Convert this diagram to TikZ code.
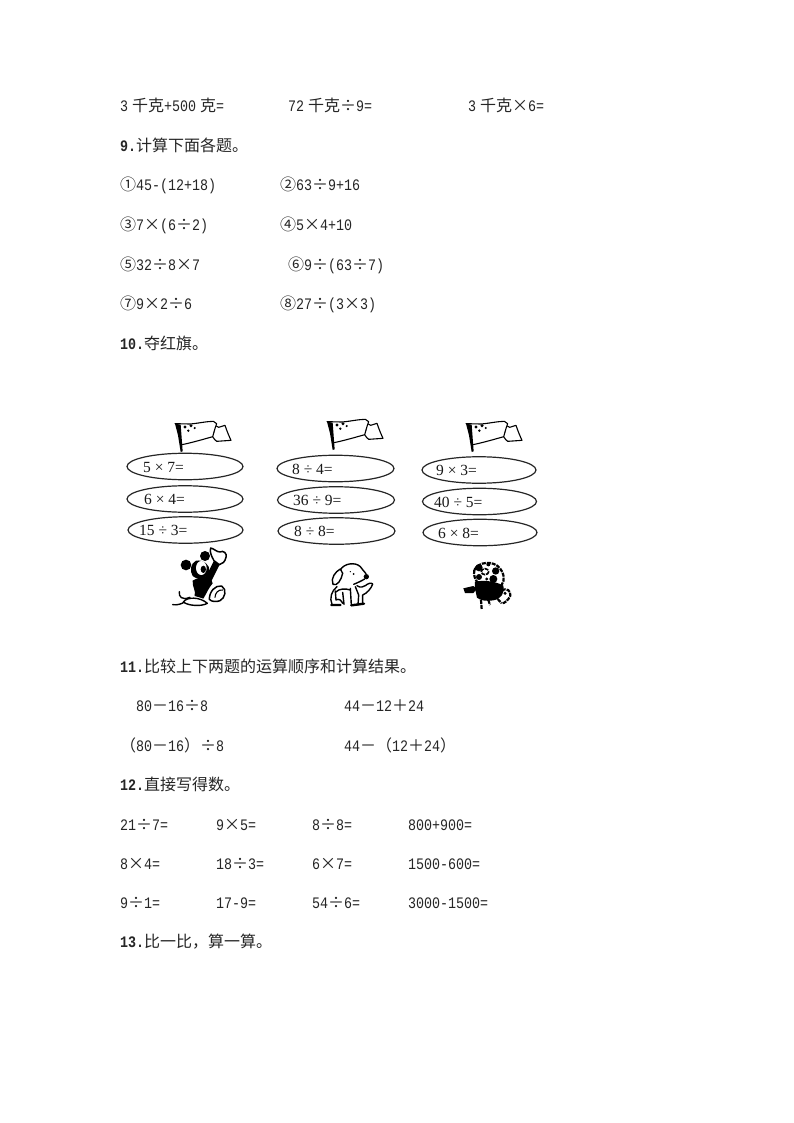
\documentclass[tikz,border=0pt]{standalone}
\usepackage{fontspec}
\setmainfont{Liberation Mono}[FakeStretch=0.833]
\newfontfamily\sumfont{Liberation Serif}
\newfontfamily\cjk{Noto Sans CJK SC}
\usetikzlibrary{shapes.geometric}
\newcommand{\Cj}[1]{{\cjk #1}}
\newcommand{\Bd}[1]{{\bfseries #1}}
\newcommand{\Hs}{\hspace{4pt}}
\tikzset{
  txt/.style={anchor=base west,inner sep=0pt,font=\fontsize{16}{18}\selectfont,text=black!85},
  oval/.style={draw=black!85,line width=1.2pt,ellipse,minimum width=#1,minimum height=26.5pt,inner sep=0pt},
  sum/.style={anchor=base west,inner sep=0pt,font=\sumfont\fontsize{15.5}{18}\selectfont,text=black!90},
  ink/.style={draw=black,line width=1.1pt,line join=round,line cap=round},
  rough/.style={draw=black,line width=1.5pt,dash pattern=on 4pt off 1pt},
  flagpic/.pic={
    \begin{scope}[x=0.3333pt,y=-0.3333pt,shift={(-33,-110)}]
    \fill[black] (15,25) -- (32,28) -- (38,108) -- (32,110) -- (24,60) -- cycle;
    \draw[ink] (15,25) -- (60,26) .. controls (85,24) and (110,18) .. (130,18) -- (140,25)
      .. controls (137,33) and (134,42) .. (132,50);
    \draw[ink] (36,88) .. controls (65,82) and (100,72) .. (128,64) .. controls (132,70) and (135,75) .. (140,78) -- (183,75)
      .. controls (176,60) and (170,45) .. (165,30) -- (146,36) -- (139,32);
    \draw[ink] (132,50) -- (128,64);
    \fill (45,35) circle (5) (63,31) circle (5) (55,46) circle (4) (74,38) circle (3.5);
    \end{scope}
  }
}
\begin{document}
\begin{tikzpicture}[x=1pt,y=-1pt]
\useasboundingbox (0,0) rectangle (794,1123);
\fill[white] (0,0) rectangle (794,1123);
% top lines
\node[txt] (a1) at (120,112) {3\Hs\Cj{千克}+500\Hs\Cj{克}=};
\node[txt] (a2) at (288,112) {72\Hs\Cj{千克÷}9=};
\node[txt] (a3) at (468,112) {3\Hs\Cj{千克×}6=};
\node[txt] (q9) at (120,152) {\Bd{9.}\Cj{计算下面各题。}};
\node[txt] (b1) at (120,191) {\Cj{①}45-(12+18)};
\node[txt] (b2) at (280,191) {\Cj{②}63\Cj{÷}9+16};
\node[txt] (b3) at (120,230) {\Cj{③}7\Cj{×}(6\Cj{÷}2)};
\node[txt] (b4) at (280,230) {\Cj{④}5\Cj{×}4+10};
\node[txt] (b5) at (120,270) {\Cj{⑤}32\Cj{÷}8\Cj{×}7};
\node[txt] (b6) at (288,270) {\Cj{⑥}9\Cj{÷}(63\Cj{÷}7)};
\node[txt] (b7) at (120,309) {\Cj{⑦}9\Cj{×}2\Cj{÷}6};
\node[txt] (b8) at (280,309) {\Cj{⑧}27\Cj{÷}(3\Cj{×}3)};
\node[txt] (q10) at (120,349) {\Bd{10.}\Cj{夺红旗。}};
% ovals
\node[oval=116pt] (e11) at (185,466.5) {};
\node[oval=116pt] (e12) at (185,499) {};
\node[oval=115pt] (e13) at (185.5,530) {};
\node[oval=117pt] (e21) at (335.5,468.5) {};
\node[oval=117pt] (e22) at (336,500) {};
\node[oval=117pt] (e23) at (336.5,531) {};
\node[oval=114pt] (e31) at (479,470) {};
\node[oval=114pt] (e32) at (479.5,501.5) {};
\node[oval=114pt] (e33) at (480,532.5) {};
\node[sum] (s11) at (143,472.5) {5 × 7=};
\node[sum] (s12) at (144,504.5) {6 × 4=};
\node[sum] (s13) at (139,535.5) {15 ÷ 3=};
\node[sum] (s21) at (292,474) {8 ÷ 4=};
\node[sum] (s22) at (293,505.5) {36 ÷ 9=};
\node[sum] (s23) at (294,536.5) {8 ÷ 8=};
\node[sum] (s31) at (436,475.5) {9 × 3=};
\node[sum] (s32) at (434,507.5) {40 ÷ 5=};
\node[sum] (s33) at (438,538.5) {6 × 8=};
% flags
\pic at (181,452) {flagpic};
\pic at (333,450) {flagpic};
\pic at (472,452) {flagpic};
% mouse
\begin{scope}[shift={(170,540)},x=0.3333pt,y=-0.3333pt]
  \draw[ink,line width=1.4pt] (28,155) .. controls (26,170) and (35,182) .. (60,172);
  \draw[ink,line width=1.4pt] (8,194) .. controls (22,196) and (35,192) .. (45,185);
  \draw[ink,fill=white,line width=1.4pt] (40,186) .. controls (50,170) and (90,170) .. (112,190) .. controls (95,200) and (55,198) .. (40,186) -- cycle;
  \fill (68,122) .. controls (80,112) and (105,112) .. (118,105) -- (128,130) .. controls (115,145) and (110,160) .. (100,176) .. controls (90,172) and (80,170) .. (74,168) .. controls (78,150) and (66,140) .. (68,122) -- cycle;
  \fill (108,110) -- (132,62) -- (150,72) -- (122,128) -- cycle;
  \draw[ink,fill=white,line width=1.5pt] (132,62) .. controls (125,50) and (118,35) .. (122,24) .. controls (132,26) and (140,36) .. (150,36) .. controls (160,30) and (172,40) .. (168,52) .. controls (165,65) and (158,72) .. (148,74) -- cycle;
  \draw[ink,fill=white,line width=1.5pt] (118,178) .. controls (118,155) and (135,135) .. (155,138) .. controls (172,148) and (165,175) .. (150,182) .. controls (140,186) and (125,186) .. (118,178) -- cycle;
  \draw[ink] (135,172) .. controls (135,160) and (145,148) .. (158,150);
  \fill (48,75) circle (16);
  \fill (105,48) circle (15);
  \fill (78,62) .. controls (100,58) and (122,75) .. (118,95) .. controls (112,118) and (85,122) .. (68,108) .. controls (58,92) and (62,70) .. (78,62) -- cycle;
  \fill[white] (94,84) ellipse (16 and 21);
  \fill (100,88) ellipse (8 and 11);
\end{scope}
% dog
\begin{scope}[shift={(322,555)},x=0.3333pt,y=-0.3333pt]
  \draw[ink,line width=1.4pt] (55,45) .. controls (65,25) and (100,20) .. (115,35) .. controls (122,42) and (125,50) .. (132,56);
  \draw[ink,line width=1.4pt] (128,72) .. controls (118,78) and (105,84) .. (95,88);
  \fill (133,65) ellipse (8 and 8);
  \fill (95,57) circle (3) (85,50) circle (2);
  \draw[ink,fill=white,line width=1.4pt] (55,42) .. controls (40,50) and (25,70) .. (33,88) .. controls (45,95) and (58,75) .. (62,55) -- cycle;
  \draw[ink,line width=1.4pt] (45,95) .. controls (28,108) and (22,130) .. (30,148);
  \draw[ink,line width=1.4pt] (40,112) .. controls (52,100) and (70,100) .. (85,105);
  \draw[ink,line width=1.4pt] (62,112) -- (66,148) (85,100) -- (88,150) (100,95) -- (110,120) -- (108,150);
  \draw[ink,line width=1.4pt] (105,92) .. controls (115,100) and (125,95) .. (130,92) .. controls (138,85) and (148,82) .. (152,87) .. controls (148,100) and (135,115) .. (122,120) -- (122,145);
  \draw[ink,line width=1.4pt] (40,108) -- (42,135) .. controls (50,130) and (58,135) .. (62,145);
  \draw[ink,line width=2.4pt] (28,150) -- (55,150) (88,151) -- (126,146);
\end{scope}
% bear
\begin{scope}[shift={(455,555)},x=0.3333pt,y=-0.3333pt]
  \fill (60,80) .. controls (90,74) and (125,80) .. (145,92) .. controls (150,115) and (138,132) .. (115,136) .. controls (95,140) and (75,136) .. (66,128) .. controls (62,110) and (58,95) .. (60,80) -- cycle;
  \fill (25,100) -- (55,93) -- (66,102) -- (55,114) -- (30,114) -- cycle;
  \draw[rough,line width=2.2pt] (58,45) .. controls (70,20) and (115,15) .. (135,40) .. controls (148,55) and (150,75) .. (140,90);
  \draw[rough,line width=2.2pt] (58,45) .. controls (55,60) and (60,75) .. (70,85);
  \fill (72,38) circle (11) (100,28) circle (6) (122,48) circle (11) (115,72) circle (12) (72,66) circle (9) (95,72) circle (5);
  \draw[rough,line width=1.6pt] (90,50) ellipse (11 and 9);
  \draw[rough,line width=2.2pt] (140,105) .. controls (155,100) and (168,105) .. (166,122) .. controls (160,135) and (150,145) .. (140,145);
  \draw[rough,line width=2.2pt] (128,132) -- (140,145) (78,135) -- (80,162) (100,135) -- (105,150);
  \fill (150,115) circle (5);
\end{scope}
% lower text
\node[txt] (q11) at (120,672) {\Bd{11.}\Cj{比较上下两题的运算顺序和计算结果。}};
\node[txt] (c1) at (136,711) {80\Cj{－}16\Cj{÷}8};
\node[txt] (c2) at (344,711) {44\Cj{－}12\Cj{＋}24};
\node[txt] (c3) at (120,751) {\Cj{（}80\Cj{－}16\Cj{）÷}8};
\node[txt] (c4) at (344,751) {44\Cj{－（}12\Cj{＋}24\Cj{）}};
\node[txt] (q12) at (120,790) {\Bd{12.}\Cj{直接写得数。}};
\node[txt] (d1) at (120,830) {21\Cj{÷}7=};
\node[txt] (d2) at (216,830) {9\Cj{×}5=};
\node[txt] (d3) at (312,830) {8\Cj{÷}8=};
\node[txt] (d4) at (408,830) {800+900=};
\node[txt] (d5) at (120,869) {8\Cj{×}4=};
\node[txt] (d6) at (216,869) {18\Cj{÷}3=};
\node[txt] (d7) at (312,869) {6\Cj{×}7=};
\node[txt] (d8) at (408,869) {1500-600=};
\node[txt] (d9) at (120,908) {9\Cj{÷}1=};
\node[txt] (d10) at (216,908) {17-9=};
\node[txt] (d11) at (312,908) {54\Cj{÷}6=};
\node[txt] (d12) at (408,908) {3000-1500=};
\node[txt] (q13) at (120,947) {\Bd{13.}\Cj{比一比，算一算。}};
\end{tikzpicture}
\end{document}
